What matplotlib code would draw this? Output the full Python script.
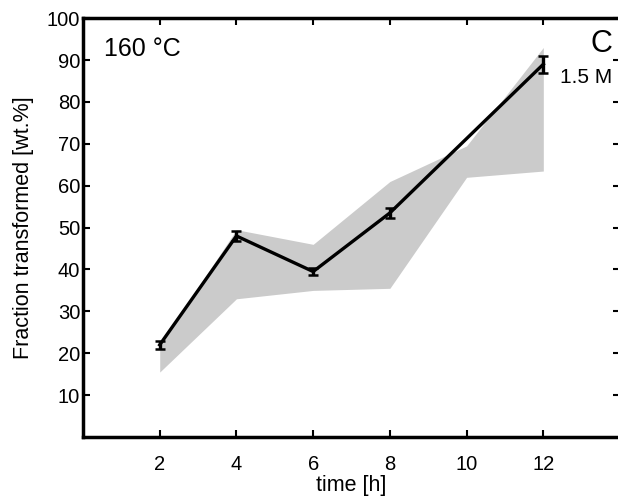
import matplotlib as mpl
import matplotlib.pyplot as plt

mpl.rcParams['font.family'] = ['Liberation Sans', 'DejaVu Sans']

# measured series (160 C, 1.5 M)
time_h = [2, 4, 6, 8, 12]
fraction = [22, 48, 39.5, 53.5, 89]
fraction_err = [1.0, 1.3, 0.9, 1.2, 2.0]

# spread of the model band
band_x = [2, 4, 6, 8, 10, 12]
band_low = [15.5, 33, 35, 35.5, 62, 63.5]
band_high = [22, 49.5, 46, 61, 69.5, 93]

xticks = [2, 4, 6, 8, 10, 12]
yticks = [10, 20, 30, 40, 50, 60, 70, 80, 90, 100]

fig = plt.figure(figsize=(6.18, 4.98), dpi=100)
ax1 = fig.add_axes([0.1343, 0.1225, 0.869, 0.841])

ax1.fill_between(band_x, band_low, band_high, color='#cbcbcb', lw=0, zorder=1)
ax1.errorbar(time_h, fraction, yerr=fraction_err, color='black', lw=2.4,
             elinewidth=2.4, capsize=3.5, capthick=1.8, zorder=3)

ax1.set_xlim(0, 14)
ax1.set_ylim(0, 100)
ax1.set_xticks(xticks)
ax1.set_yticks(yticks)
ax1.tick_params(direction='in', top=True, right=True, length=5, width=1.5,
                labelsize=14.5)
ax1.tick_params(axis='x', pad=13)
ax1.tick_params(axis='y', pad=2)

for sp in ax1.spines.values():
    sp.set_linewidth(2.5)

ax1.set_xlabel('time [h]', fontsize=15.5, labelpad=1)
ax1.set_ylabel('Fraction transformed [wt.%]', fontsize=15.5, labelpad=9)

ax1.text(0.04, 0.955, '160 °C', transform=ax1.transAxes, fontsize=18,
         va='top', ha='left')
ax1.text(0.985, 0.975, 'C', transform=ax1.transAxes, fontsize=22,
         va='top', ha='right')
ax1.text(0.985, 0.882, '1.5 M', transform=ax1.transAxes, fontsize=15,
         va='top', ha='right')

plt.savefig('out.png', dpi=100)
plt.close()
